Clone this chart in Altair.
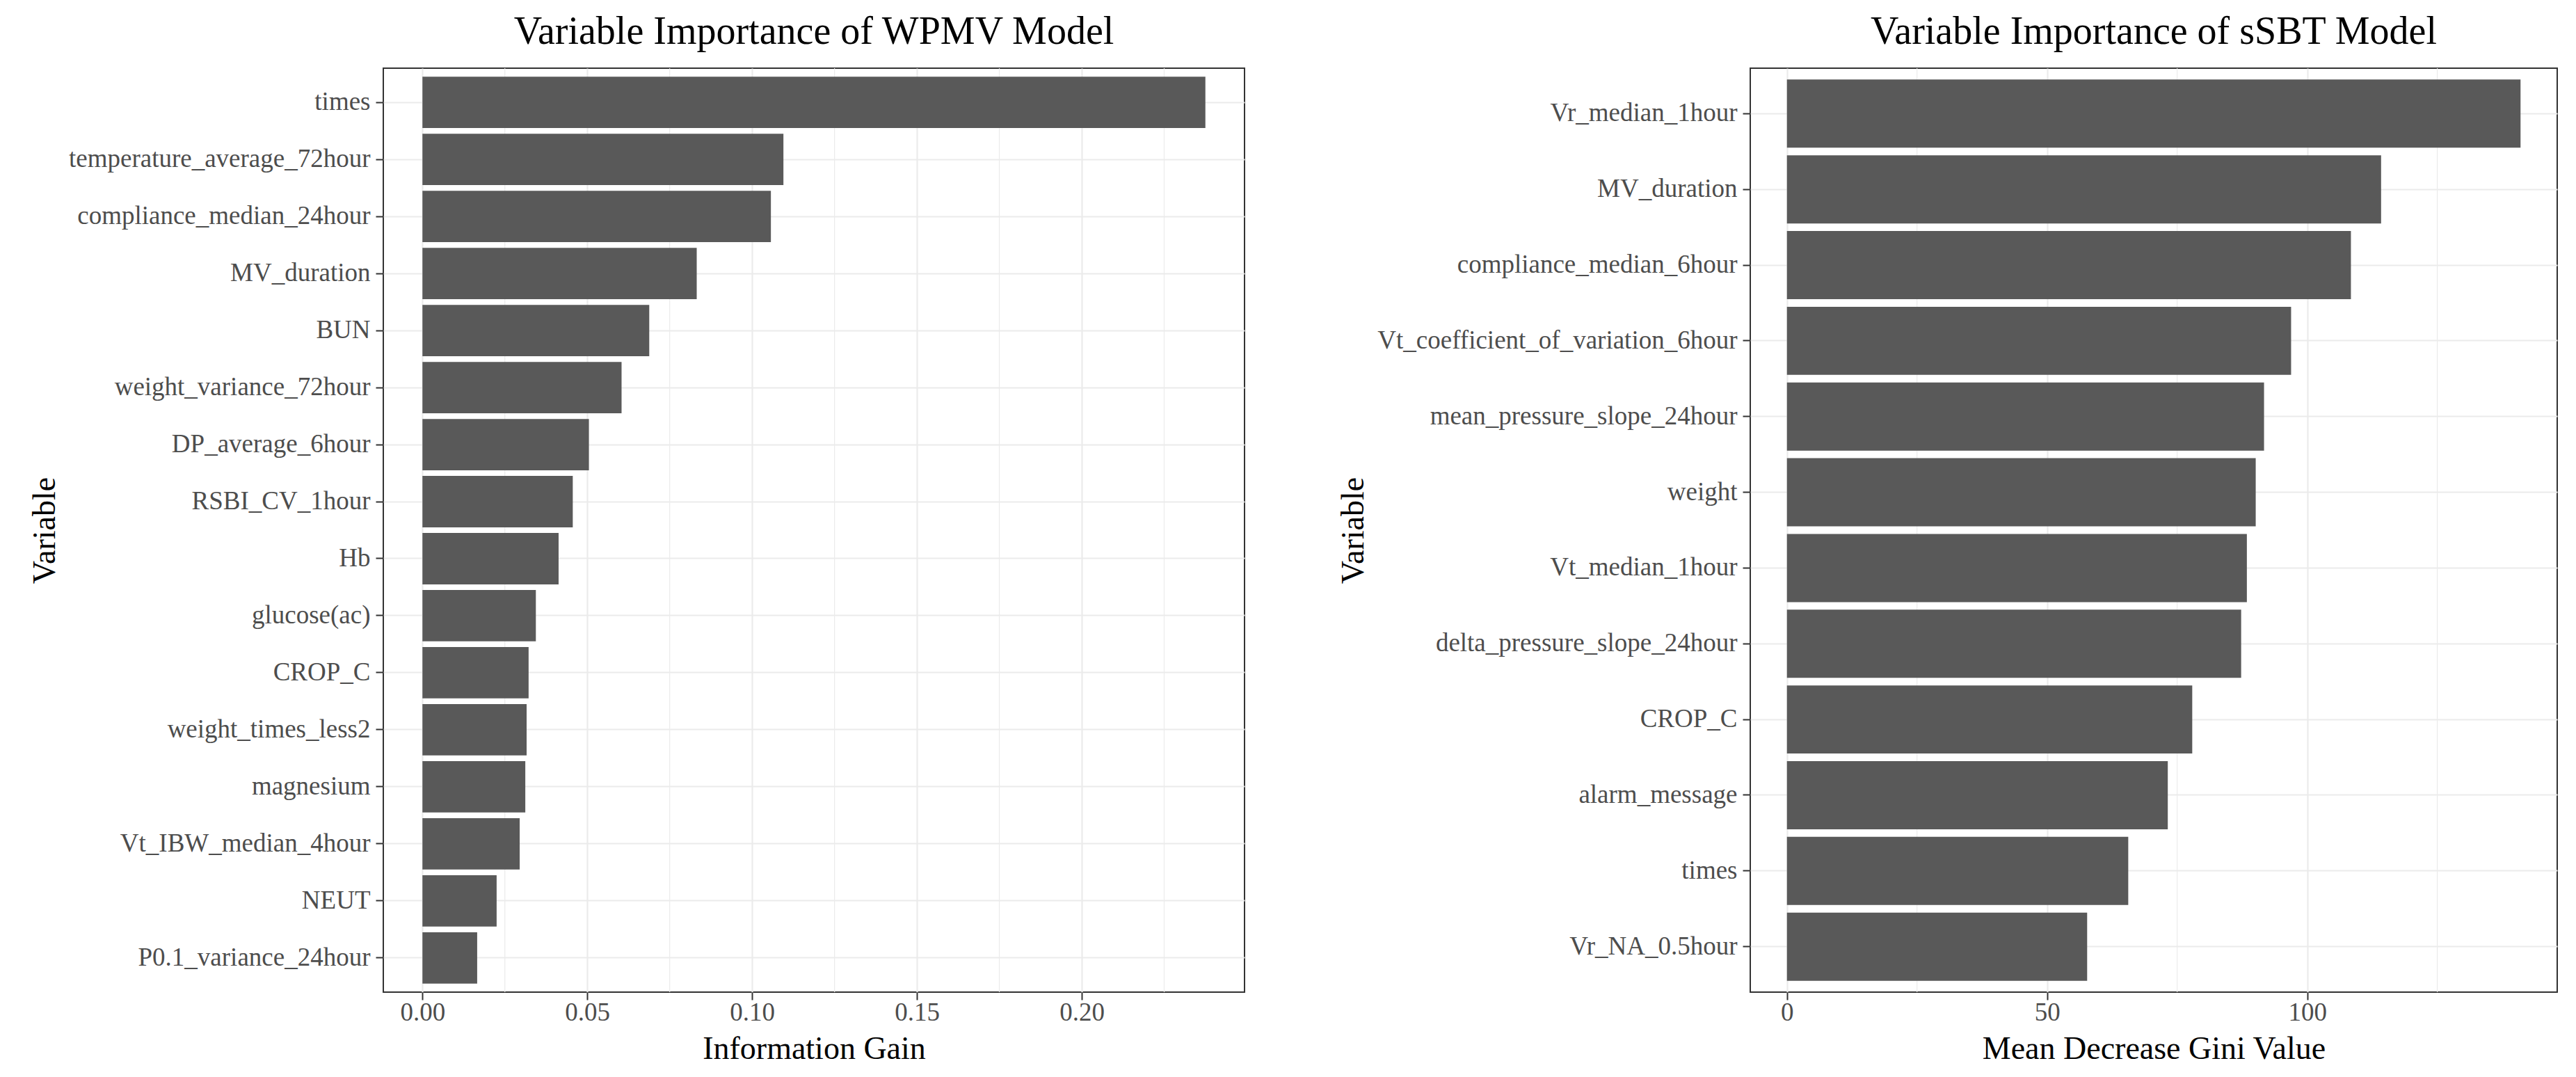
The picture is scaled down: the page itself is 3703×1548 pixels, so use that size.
import altair as alt
import pandas as pd

# ---- data ----
wpmv_vars = ["times", "temperature_average_72hour", "compliance_median_24hour", "MV_duration",
             "BUN", "weight_variance_72hour", "DP_average_6hour", "RSBI_CV_1hour", "Hb",
             "glucose(ac)", "CROP_C", "weight_times_less2", "magnesium", "Vt_IBW_median_4hour",
             "NEUT", "P0.1_variance_24hour"]
wpmv_gain = [0.2375, 0.1095, 0.1057, 0.0832, 0.0688, 0.0604, 0.0505, 0.0456, 0.0413,
             0.0344, 0.0322, 0.0316, 0.0312, 0.0295, 0.0225, 0.0166]

ssbt_vars = ["Vr_median_1hour", "MV_duration", "compliance_median_6hour",
             "Vt_coefficient_of_variation_6hour", "mean_pressure_slope_24hour", "weight",
             "Vt_median_1hour", "delta_pressure_slope_24hour", "CROP_C", "alarm_message",
             "times", "Vr_NA_0.5hour"]
ssbt_gini = [141.0, 114.2, 108.4, 96.9, 91.7, 90.1, 88.4, 87.3, 77.9, 73.2, 65.6, 57.7]

wpmv_ticks = [0, 0.05, 0.10, 0.15, 0.20]
wpmv_minor = [0.025, 0.075, 0.125, 0.175, 0.225]
ssbt_ticks = [0, 50, 100]
ssbt_minor = [25, 75, 125]

FONT = "Liberation Serif"
BAR = "#595959"
GRID = "#EBEBEB"
DARK = "#333333"


def panel(names, values, ticks, minor, fmt, xtitle, title, width, height):
    df = pd.DataFrame({"variable": names, "value": values})
    mdf = pd.DataFrame({"m": minor})
    vmax = max(values)
    sc = alt.Scale(domain=[-0.05 * vmax, 1.05 * vmax], nice=False, zero=False)
    xaxis = alt.Axis(values=ticks, format=fmt, grid=True, gridColor=GRID, gridWidth=2.2,
                     domain=False, ticks=True, tickColor=DARK, tickWidth=2, tickSize=11,
                     labelFont=FONT, labelFontSize=37, labelColor="#4D4D4D", labelPadding=0,
                     title=xtitle, titleFont=FONT, titleFontSize=46, titleColor="black",
                     titleFontWeight="normal", titlePadding=12, maxExtent=1000)
    yaxis = alt.Axis(title="Variable", grid=True, gridColor=GRID, gridWidth=2.2,
                     domain=False, ticks=True, tickColor=DARK, tickWidth=2, tickSize=11,
                     labelFont=FONT, labelFontSize=37, labelColor="#4D4D4D", labelPadding=8,
                     labelLimit=2000, titleFont=FONT, titleFontSize=46, titleColor="black",
                     titleFontWeight="normal", titlePadding=10, maxExtent=2000)
    minor_rules = alt.Chart(mdf).mark_rule(color=GRID, strokeWidth=1.2).encode(
        x=alt.X("m:Q", scale=sc, axis=xaxis)
    )
    bars = alt.Chart(df).mark_bar(color=BAR).encode(
        x=alt.X("value:Q", scale=sc, axis=xaxis),
        y=alt.Y("variable:N", sort=names, axis=yaxis,
                scale=alt.Scale(paddingInner=0.1, paddingOuter=0.15)),
    )
    return alt.layer(minor_rules, bars).properties(
        width=width, height=height,
        title=alt.TitleParams(title, frame="group", anchor="middle", font=FONT,
                              fontSize=56, fontWeight="normal", color="black", offset=22),
    )


left = panel(wpmv_vars, wpmv_gain, wpmv_ticks, wpmv_minor, ".2f", "Information Gain",
             "Variable Importance of WPMV Model", 1238, 1328)
right = panel(ssbt_vars, ssbt_gini, ssbt_ticks, ssbt_minor, "d", "Mean Decrease Gini Value",
              "Variable Importance of sSBT Model", 1160, 1328)

chart = alt.hconcat(left, right, spacing=131).properties(
    padding={"left": 32, "top": 9, "right": 5, "bottom": 5},
    background="white",
).configure_view(stroke=DARK, strokeWidth=2)

chart.save("out.html", embed_options={"renderer": "svg", "actions": False})
